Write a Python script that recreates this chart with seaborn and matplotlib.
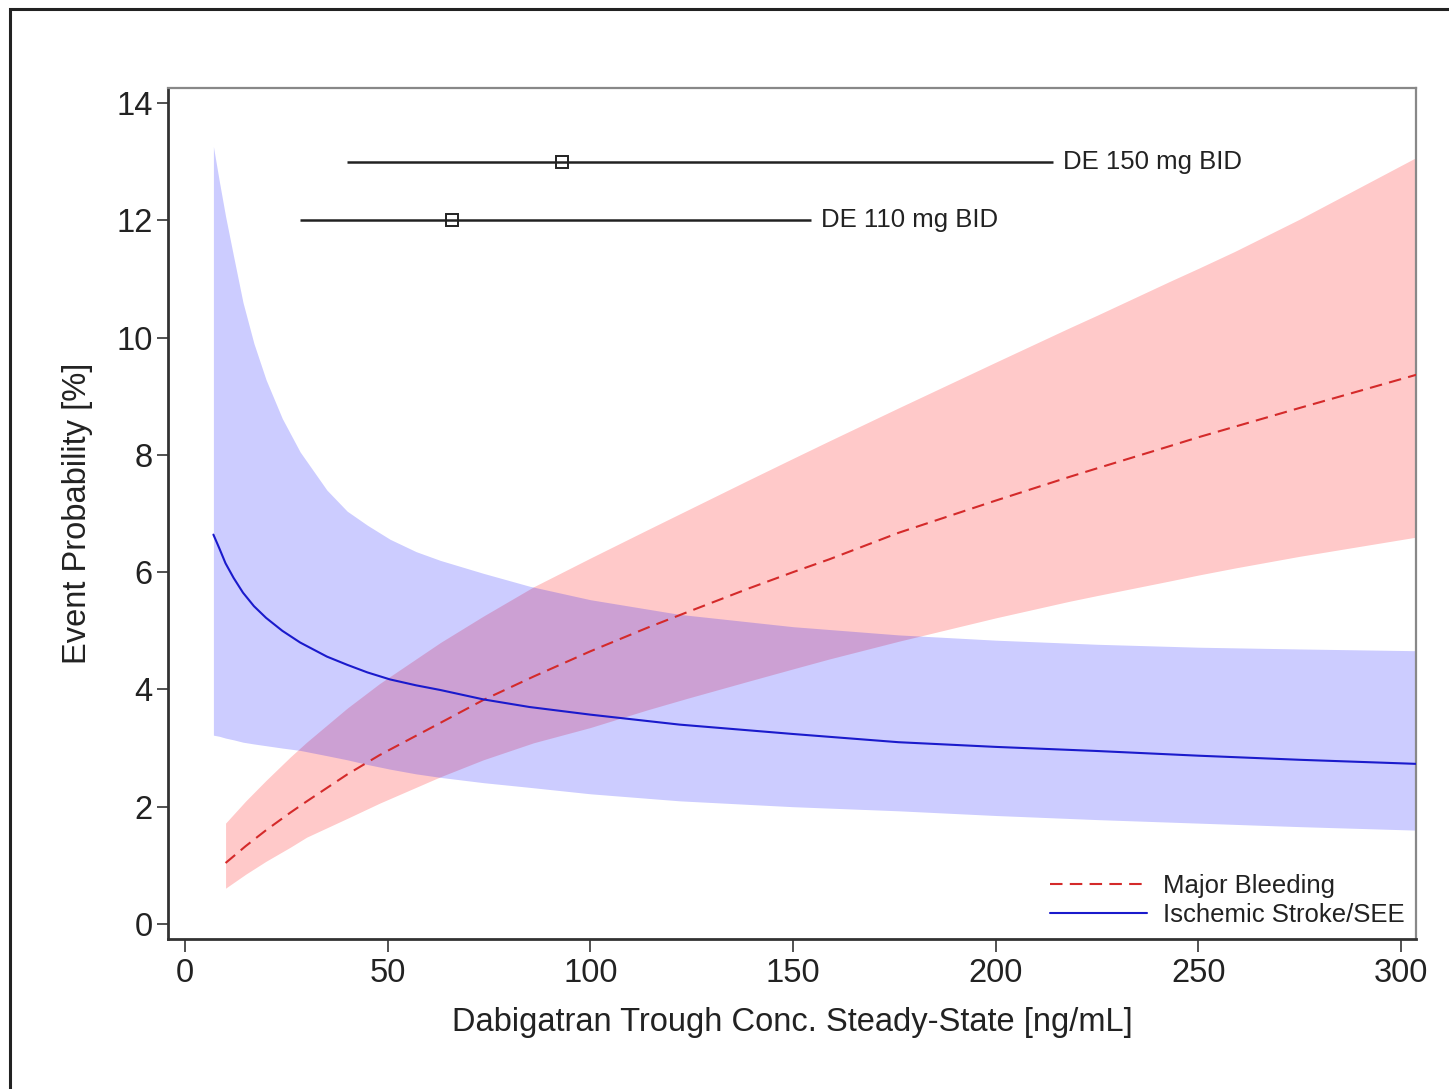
import numpy as np
import pandas as pd
import matplotlib
matplotlib.use("Agg")
import matplotlib.pyplot as plt
import seaborn as sns
from matplotlib.patches import Rectangle

# ---------------- data ----------------
stroke_x = [7, 8.5, 10, 12, 14.3, 17, 20, 24, 28.4, 35, 40, 45, 50.6, 57, 63,
            73.6, 85, 100, 122, 150, 176, 200, 225, 250, 275, 304]
stroke_mid = [6.64, 6.40, 6.15, 5.90, 5.65, 5.42, 5.22, 5.00, 4.80, 4.56, 4.42,
              4.29, 4.17, 4.07, 3.99, 3.83, 3.70, 3.57, 3.40, 3.24, 3.10, 3.02,
              2.95, 2.87, 2.80, 2.73]
stroke_hi = [13.26, 12.65, 12.07, 11.38, 10.60, 9.90, 9.28, 8.62, 8.05, 7.40,
             7.04, 6.80, 6.56, 6.35, 6.20, 5.98, 5.76, 5.53, 5.28, 5.07, 4.93,
             4.84, 4.77, 4.72, 4.69, 4.66]
stroke_lo = [3.22, 3.20, 3.17, 3.14, 3.10, 3.07, 3.04, 3.00, 2.96, 2.87, 2.80,
             2.72, 2.64, 2.56, 2.50, 2.41, 2.33, 2.22, 2.10, 2.00, 1.93, 1.85,
             1.78, 1.72, 1.66, 1.60]

bleed_x = [10, 15, 20, 26, 30, 40, 48, 63, 73.6, 86, 100, 114, 124, 139, 150,
           159, 176, 200, 209, 218, 225, 243, 250, 259, 275, 304]
bleed_mid = [1.04, 1.33, 1.60, 1.90, 2.09, 2.55, 2.88, 3.43, 3.82, 4.22, 4.65,
             5.05, 5.32, 5.72, 6.00, 6.22, 6.67, 7.22, 7.42, 7.62, 7.77, 8.15,
             8.30, 8.48, 8.80, 9.37]
bleed_hi = [1.72, 2.10, 2.45, 2.85, 3.10, 3.68, 4.10, 4.80, 5.25, 5.75, 6.24,
            6.72, 7.06, 7.57, 7.94, 8.24, 8.80, 9.58, 9.87, 10.16, 10.38, 10.96,
            11.18, 11.47, 12.02, 13.08]
bleed_lo = [0.61, 0.85, 1.07, 1.31, 1.48, 1.80, 2.06, 2.51, 2.80, 3.09, 3.35,
            3.65, 3.85, 4.14, 4.35, 4.52, 4.82, 5.22, 5.36, 5.50, 5.60, 5.85,
            5.95, 6.07, 6.27, 6.60]

dose_labels = ["DE 150 mg BID", "DE 110 mg BID"]
dose_y = [13, 12]
dose_center = [93.0, 65.9]
dose_low = [40.0, 28.4]
dose_high = [214.2, 154.5]

series_names = ["Major Bleeding", "Ischemic Stroke/SEE"]
xticks = [0, 50, 100, 150, 200, 250, 300]
yticks = [0, 2, 4, 6, 8, 10, 12, 14]
xlabel = "Dabigatran Trough Conc. Steady-State [ng/mL]"
ylabel = "Event Probability [%]"

# ---------------- style ----------------
sns.set_style("white")
plt.rcParams["font.family"] = ["Liberation Sans", "DejaVu Sans"]

DPI = 100
fig = plt.figure(figsize=(14.49, 10.89), dpi=DPI)
ax = fig.add_axes([168 / 1449, 1 - 939 / 1089, (1416 - 168) / 1449, (939 - 88) / 1089])

ax.fill_between(bleed_x, bleed_lo, bleed_hi, color=(1.0, 0.0, 0.0), alpha=0.21,
                linewidth=0, zorder=1)
ax.fill_between(stroke_x, stroke_lo, stroke_hi, color=(0.0, 0.0, 1.0), alpha=0.2,
                linewidth=0, zorder=2)

df = pd.concat([
    pd.DataFrame({"x": bleed_x, "y": bleed_mid, "series": series_names[0]}),
    pd.DataFrame({"x": stroke_x, "y": stroke_mid, "series": series_names[1]}),
])
sns.lineplot(data=df, x="x", y="y", hue="series", style="series",
             hue_order=series_names, style_order=series_names,
             palette={series_names[0]: "#d42a2a", series_names[1]: "#1a1acc"},
             dashes={series_names[0]: (6, 3.5), series_names[1]: ""},
             linewidth=1.5, ax=ax, zorder=3, sort=True, estimator=None)

# dose range bars
for lab, yv, c, lo, hi in zip(dose_labels, dose_y, dose_center, dose_low, dose_high):
    ax.errorbar([c], [yv], xerr=[[c - lo], [hi - c]], fmt="s", mfc="none",
                mec="#222222", mew=1.4, ms=8.5, ecolor="#222222", elinewidth=1.8,
                capsize=0, zorder=4)
    ax.text(hi + 2.4, yv, lab, fontsize=18.5, color="#222222", va="center",
            ha="left", zorder=5)

ax.set_xlim(-4.2, 303.7)
ax.set_ylim(-0.256, 14.256)
ax.set_xticks(xticks)
ax.set_yticks(yticks)
ax.set_xlabel(xlabel, fontsize=23.5, color="#222222", labelpad=13)
ax.set_ylabel(ylabel, fontsize=23.5, color="#222222", labelpad=17)
ax.tick_params(axis="both", labelsize=23.5, colors="#333333", labelcolor="#222222",
               direction="out", width=1.2)
ax.tick_params(axis="x", length=9, pad=5, bottom=True)
ax.tick_params(axis="y", length=8, pad=3, left=True)

for side in ["left", "bottom"]:
    ax.spines[side].set_color("#333333")
    ax.spines[side].set_linewidth(2.0)
for side in ["top", "right"]:
    ax.spines[side].set_color("#888888")
    ax.spines[side].set_linewidth(1.6)

leg = ax.legend(loc="lower right", frameon=False, fontsize=18.5,
                handlelength=3.8, handletextpad=0.6, labelspacing=0.22,
                borderaxespad=0.25, borderpad=0.2)
for t in leg.get_texts():
    t.set_color("#222222")

# outer frame
fig.patches.append(Rectangle((10 / 1449, -0.01), 1.05, 1 - 9 / 1089 + 0.01,
                             transform=fig.transFigure, fill=False,
                             edgecolor="#222222", linewidth=2.2))

fig.savefig("out.png", dpi=DPI)
